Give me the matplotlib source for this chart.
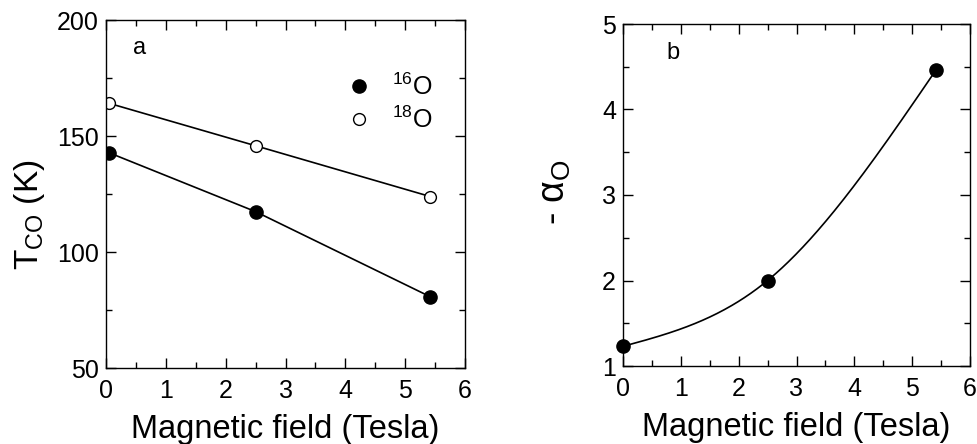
import numpy as np
import matplotlib
matplotlib.use("Agg")
import matplotlib.pyplot as plt
from matplotlib.ticker import MultipleLocator
from matplotlib.lines import Line2D

plt.rcParams['font.family'] = ['Liberation Sans', 'DejaVu Sans']
plt.rcParams['mathtext.fontset'] = 'custom'
plt.rcParams['mathtext.rm'] = 'Liberation Sans'
plt.rcParams['mathtext.it'] = 'Liberation Sans:italic'

# Panel a data
field_a = [0.05, 2.5, 5.42]
tco_16 = [142.8, 117.4, 80.7]
tco_18 = [164.1, 145.8, 123.9]

# Panel b data
field_b = [0.0, 2.5, 5.41]
alpha_o = [1.23, 2.0, 4.46]


def natural_spline(x, y, xs):
    x = np.asarray(x, float); y = np.asarray(y, float)
    n = len(x)
    h = np.diff(x)
    A = np.zeros((n, n)); r = np.zeros(n)
    A[0, 0] = 1; A[-1, -1] = 1
    for i in range(1, n - 1):
        A[i, i - 1] = h[i - 1]
        A[i, i] = 2 * (h[i - 1] + h[i])
        A[i, i + 1] = h[i]
        r[i] = 6 * ((y[i + 1] - y[i]) / h[i] - (y[i] - y[i - 1]) / h[i - 1])
    M = np.linalg.solve(A, r)
    out = np.empty_like(xs)
    for j, xv in enumerate(xs):
        i = min(np.searchsorted(x, xv, side='right') - 1, n - 2)
        i = max(i, 0)
        a = x[i + 1] - xv; b = xv - x[i]
        out[j] = (M[i] * a**3 + M[i + 1] * b**3) / (6 * h[i]) \
            + (y[i] - M[i] * h[i]**2 / 6) * a / h[i] \
            + (y[i + 1] - M[i + 1] * h[i]**2 / 6) * b / h[i]
    return out


fig = plt.figure(figsize=(9.77, 4.44), dpi=100)
ax1 = fig.add_axes([106/977, 1-368/444, 359/977, 348/444])
ax2 = fig.add_axes([623/977, 1-366/444, 347/977, 342/444])


def style(ax):
    ax.tick_params(which='both', direction='in', top=True, right=True, labelsize=18, width=1)
    ax.tick_params(axis='x', pad=8)
    ax.tick_params(axis='y', pad=5)
    ax.tick_params(which='major', length=7)
    ax.tick_params(which='minor', length=4)
    for s in ax.spines.values():
        s.set_linewidth(1)


# Panel a
ax1.plot(field_a, tco_16, '-', color='black', lw=1.2, marker='o', ms=9.5, mfc='black', mec='black')
ax1.plot(field_a, tco_18, '-', color='black', lw=1.2, marker='o', ms=8.5, mfc='white', mec='black', mew=1)
ax1.set_xlim(0, 6)
ax1.set_ylim(50, 200)
ax1.xaxis.set_major_locator(MultipleLocator(1))
ax1.xaxis.set_minor_locator(MultipleLocator(0.5))
ax1.yaxis.set_major_locator(MultipleLocator(50))
ax1.yaxis.set_minor_locator(MultipleLocator(25))
style(ax1)
ax1.set_xlabel('Magnetic field (Tesla)', fontsize=23.5, labelpad=8)
ax1.set_ylabel(r'T$_{\rm CO}$ (K)', fontsize=24)
ax1.yaxis.set_label_coords(-0.165, 0.44)
ax1.text(0.075, 0.92, 'a', transform=ax1.transAxes, fontsize=17, va='center', ha='left')
handles = [Line2D([], [], ls='', marker='o', ms=9.5, mfc='black', mec='black'),
           Line2D([], [], ls='', marker='o', ms=8.5, mfc='white', mec='black', mew=1)]
ax1.legend(handles, [r'$^{16}$O', r'$^{18}$O'], loc='upper left', bbox_to_anchor=(0.615, 0.91),
           frameon=False, fontsize=18, handlelength=0.8, handletextpad=0.9, labelspacing=0.25)

# Panel b
xs = np.linspace(field_b[0], field_b[-1], 300)
ax2.plot(xs, natural_spline(field_b, alpha_o, xs), '-', color='black', lw=1.2)
ax2.plot(field_b, alpha_o, 'o', color='black', ms=9.5, clip_on=False, zorder=5)
ax2.set_xlim(0, 6)
ax2.set_ylim(1, 5)
ax2.xaxis.set_major_locator(MultipleLocator(1))
ax2.xaxis.set_minor_locator(MultipleLocator(0.5))
ax2.yaxis.set_major_locator(MultipleLocator(1))
ax2.yaxis.set_minor_locator(MultipleLocator(0.5))
style(ax2)
ax2.set_xlabel('Magnetic field (Tesla)', fontsize=23.5, labelpad=8)
ax2.set_ylabel('- α$_{\\rm O}$', fontsize=27)
ax2.yaxis.set_label_coords(-0.145, 0.51)
ax2.text(0.125, 0.916, 'b', transform=ax2.transAxes, fontsize=17, va='center', ha='left')

fig.savefig('out.png', dpi=100)
